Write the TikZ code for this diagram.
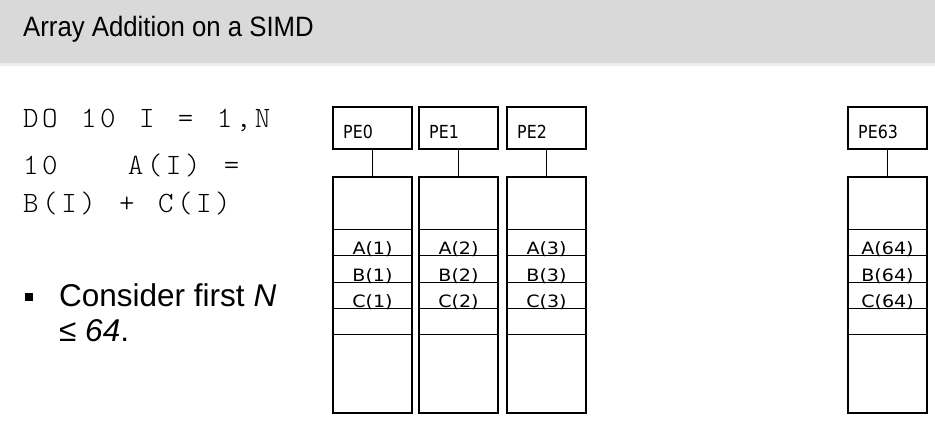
\documentclass[tikz,border=0pt]{standalone}
\usepackage{fontspec}
\setmainfont{Liberation Sans}
\setmonofont[LetterSpace=12, WordSpace=1.23]{Latin Modern Mono Light}
\newfontfamily\titlefont[FakeStretch=0.92]{Liberation Sans}
\newfontfamily\pefont[FakeStretch=0.88]{DejaVu Sans}
\newfontfamily\cellfont[FakeStretch=1.12]{DejaVu Sans}
\usetikzlibrary{positioning}
\usetikzlibrary{calc}

\definecolor{bandgray}{HTML}{D9D9D9}
\definecolor{bandline}{HTML}{EDEDED}

\tikzset{
  pebox/.style={draw, line width=1.2pt, minimum width=79pt, minimum height=42pt, inner sep=0pt},
  membox/.style={draw, line width=1.2pt, minimum width=79pt, minimum height=236pt, inner sep=0pt},
  pelabel/.style={anchor=base west, inner sep=0pt, font=\pefont\fontsize{18}{20}\selectfont},
  cell/.style={anchor=base, inner sep=0pt, font=\cellfont\fontsize{17}{20}\selectfont},
  codeline/.style={anchor=base west, inner sep=0pt, font=\ttfamily\fontsize{29.5}{32}\selectfont},
  bodytext/.style={anchor=base west, inner sep=0pt, font=\fontsize{31.5}{35}\selectfont}
}

\begin{document}
\begin{tikzpicture}[x=1pt,y=-1pt]
\useasboundingbox (0,0) rectangle (935,443);
\fill[bandgray] (0,0) rectangle (935,63);
\fill[bandline] (0,63) rectangle (935,66);
\node[anchor=base west, inner sep=0pt, font=\titlefont\fontsize{28}{32}\selectfont] (title) at (23,37) {Array Addition on a SIMD};

\node[codeline] (code1) at (23,128) {DO 10 I = 1,N};
\node[codeline] (code2) at (23,175) {10\ \ \ A(I) =};
\node[codeline] (code3) at (23,213) {B(I) + C(I)};

\node[fill=black, minimum size=8pt, inner sep=0pt] (bullet) at (29,297) {};
\node[bodytext] (cons1) at (59,307) {Consider first \textit{N}};
\node[bodytext] (cons2) at (59,342) {≤ \textit{64}.};

\foreach \i/\x/\j in {0/333/1,1/419/2,2/507/3,63/848/64}{
  \node[pebox] (pe\i) at (\x+39.5,128) {};
  \node[pelabel] (pel\i) at (\x+10,139) {PE\i};
  \node[membox] (mem\i) at (\x+39.5,295) {};
  \draw[line width=1.2pt] (pe\i.south) -- (mem\i.north);
  \foreach \d in {53,79,106,132,158}
    \draw[line width=1.2pt] ($(mem\i.north west)+(0,\d)$) -- ($(mem\i.north east)+(0,\d)$);
  \node[cell] (a\i) at ($(mem\i.north)+(0,78)$) {A(\j)};
  \node[cell] (b\i) at ($(mem\i.north)+(0,105)$) {B(\j)};
  \node[cell] (c\i) at ($(mem\i.north)+(0,131)$) {C(\j)};
}
\end{tikzpicture}
\end{document}
